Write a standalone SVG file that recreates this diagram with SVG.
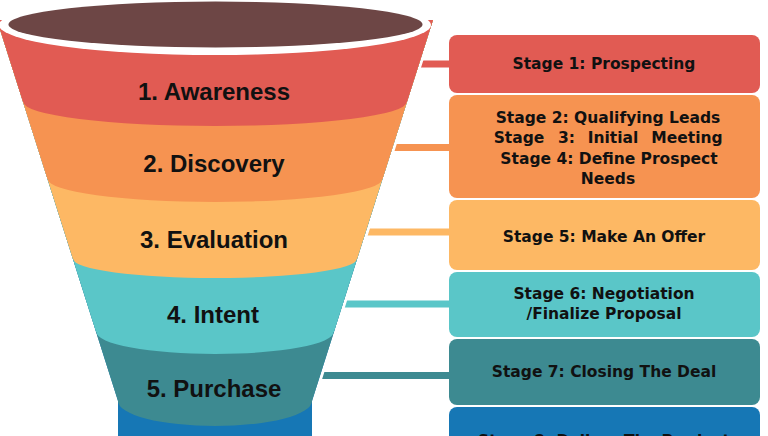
<svg xmlns="http://www.w3.org/2000/svg" width="768" height="436" viewBox="0 0 768 436">
<defs>
<style>
.lbl{font-family:"Liberation Sans",Arial,sans-serif;font-weight:bold;font-size:24px;fill:#111;text-anchor:middle}
.st{font-family:"DejaVu Sans",Verdana,sans-serif;font-weight:bold;font-size:15.5px;fill:#111;text-anchor:middle}
.con{stroke-width:7;fill:none}
</style>
<clipPath id="fclip"><path d="M -3 20 L 433 20 L 312 401 L 312 436 L 118 436 L 118 401 Z"/></clipPath>
</defs>
<rect width="768" height="436" fill="#fff"/>
<g id="connectors">
<line class="con" x1="300" y1="64" x2="455" y2="64" stroke="#E15B53"/>
<line class="con" x1="300" y1="147.5" x2="455" y2="147.5" stroke="#F69351"/>
<line class="con" x1="300" y1="232" x2="455" y2="232" stroke="#FDB864"/>
<line class="con" x1="300" y1="304" x2="455" y2="304" stroke="#5AC6C8"/>
<line class="con" x1="300" y1="375.5" x2="455" y2="375.5" stroke="#3D8A91"/>
</g>
<g id="funnel">
<path d="M -3 20 L 433 20 L 312 401 L 312 436 L 118 436 L 118 401 Z" fill="#fff" stroke="#fff" stroke-width="6"/>
<g clip-path="url(#fclip)">
<rect x="-10" y="0" width="460" height="440" fill="#1677B5"/>
<path d="M -10 0 H 440 V 401 H 312 A 97 25 0 0 1 118 401 H -10 Z" fill="#3D8A91"/>
<path d="M -10 0 H 440 V 332 H 333.6 A 118.6 22 0 0 1 96.4 332 H -10 Z" fill="#5AC6C8"/>
<path d="M -10 0 H 440 V 259 H 356.8 A 141.8 19 0 0 1 73.2 259 H -10 Z" fill="#FDB864"/>
<path d="M -10 0 H 440 V 179 H 382.3 A 167.3 23 0 0 1 47.7 179 H -10 Z" fill="#F69351"/>
<path d="M -10 0 H 440 V 102 H 406.7 A 191.7 24 0 0 1 23.3 102 H -10 Z" fill="#E15B53"/>
</g>
<ellipse cx="215" cy="25" rx="216" ry="30" fill="#fff"/>
<ellipse cx="215.5" cy="24.5" rx="207" ry="23" fill="#6D4645"/>
</g>
<g id="band1"><text class="lbl" x="214" y="100">1. Awareness</text></g>
<g id="band2"><text class="lbl" x="214" y="172">2. Discovery</text></g>
<g id="band3"><text class="lbl" x="214" y="248">3. Evaluation</text></g>
<g id="band4"><text class="lbl" x="213" y="323">4. Intent</text></g>
<g id="band5"><text class="lbl" x="214" y="397">5. Purchase</text></g>
<g id="stage1">
<rect x="449" y="35" width="311" height="58" rx="8" fill="#E15B53"/>
<text class="st" x="604" y="69">Stage 1: Prospecting</text>
</g>
<g id="stage2">
<rect x="449" y="95" width="311" height="103" rx="8" fill="#F69351"/>
<text class="st" x="608" y="122.5">Stage 2: Qualifying Leads</text>
<text class="st" y="143"><tspan x="519">Stage</tspan><tspan x="566.5">3:</tspan><tspan x="613">Initial</tspan><tspan x="687">Meeting</tspan></text>
<text class="st" x="609" y="163.5">Stage 4: Define Prospect</text>
<text class="st" x="608" y="183.5">Needs</text>
</g>
<g id="stage3">
<rect x="449" y="200" width="311" height="70" rx="8" fill="#FDB864"/>
<text class="st" x="604" y="241.5">Stage 5: Make An Offer</text>
</g>
<g id="stage4">
<rect x="449" y="272" width="311" height="65" rx="8" fill="#5AC6C8"/>
<text class="st" x="604" y="299">Stage 6: Negotiation</text>
<text class="st" x="604" y="318.5">/Finalize Proposal</text>
</g>
<g id="stage5">
<rect x="449" y="339" width="311" height="66" rx="8" fill="#3D8A91"/>
<text class="st" x="604" y="376.5">Stage 7: Closing The Deal</text>
</g>
<g id="stage6">
<rect x="449" y="407" width="311" height="50" rx="8" fill="#1677B5"/>
<text class="st" x="604" y="445.5">Stage 8: Deliver The Product</text>
</g>
</svg>
